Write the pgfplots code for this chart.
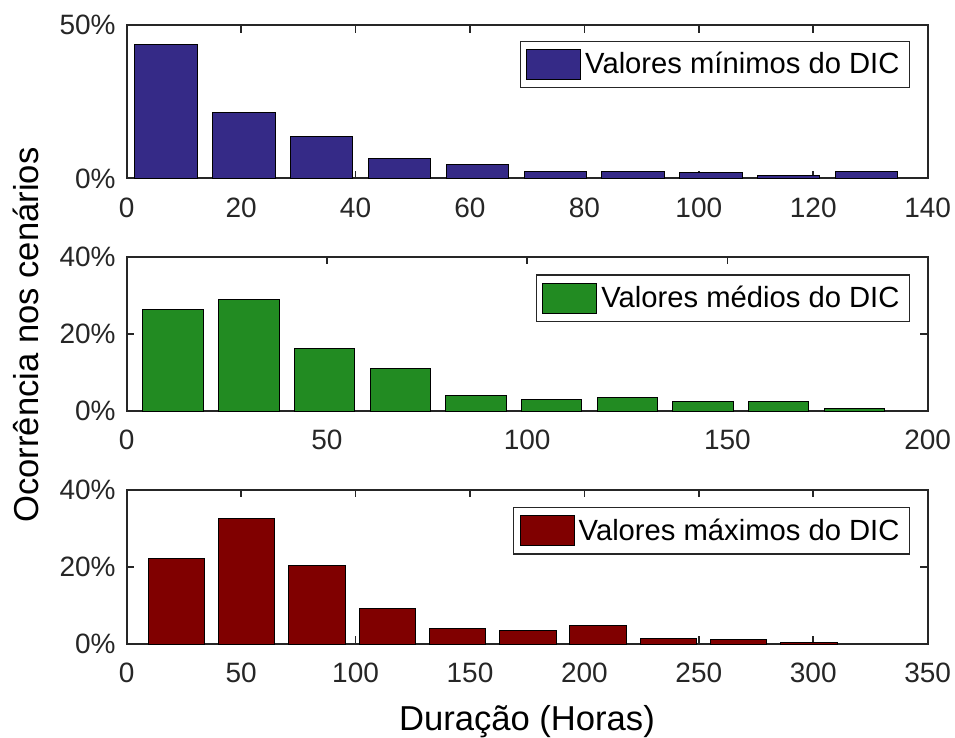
\documentclass[border=0pt]{standalone}
\usepackage{fontspec}
\setmainfont{Liberation Sans}
\usepackage{pgfplots}
\pgfplotsset{compat=1.18}

\definecolor{axgray}{RGB}{38,38,38}
\definecolor{minblue}{RGB}{53,42,135}
\definecolor{medgreen}{RGB}{34,139,34}
\definecolor{maxred}{RGB}{128,0,0}

\pgfplotsset{
  dicpanel/.style={
    scale only axis, width=400.5pt,
    anchor=north west,
    ymin=0,
    ybar,
    axis line style={line width=0.9pt, axgray},
    every tick/.style={line width=0.9pt, axgray},
    major tick length=3.8pt,
    tick align=inside,
    tick label style={font=\fontsize{14}{16}\selectfont, color=axgray},
    /pgf/number format/assume math mode=true,
    xticklabel style={yshift=-6pt},
    yticklabel style={xshift=-2pt},
    legend style={anchor=north east, draw=axgray, line width=0.6pt,
      font=\fontsize{14.6}{17}\selectfont, inner xsep=3pt, inner ysep=3.5pt,
      cells={anchor=west}},
  },
  dicbar/.style={draw=black, line width=0.5pt, fill=#1,
    legend image code/.code={\draw[draw=black, line width=0.5pt, fill=#1] (0pt,-7.5pt) rectangle (27pt,7.5pt);}},
}

\begin{document}
\begin{tikzpicture}
\path[use as bounding box] (0,0) rectangle (477.5pt,-369pt);

% Minimum DIC values
\begin{axis}[dicpanel, at={(63.35pt,-12.5pt)}, height=76.7pt,
  xmin=0, xmax=140, xtick={0,20,...,140},
  ymax=50, ytick={0,50}, yticklabels={0\%,50\%},
  bar width=10.9,
  legend style={at={(0.978,0.898)}}]
\addplot[dicbar=minblue] coordinates {
  (6.9,43.6) (20.5,21.4) (34.1,13.8) (47.7,6.6) (61.3,4.6)
  (74.9,2.2) (88.5,2.4) (102.1,1.8) (115.7,1.1) (129.3,2.1)};
\addlegendentry{Valores mínimos do DIC}
\end{axis}

% Mean DIC values
\begin{axis}[dicpanel, at={(63.35pt,-128.35pt)}, height=77.2pt,
  xmin=0, xmax=200, xtick={0,50,...,200},
  ymax=40, ytick={0,20,40}, yticklabels={0\%,20\%,40\%},
  bar width=15.1,
  legend style={at={(0.978,0.886)}}]
\addplot[dicbar=medgreen] coordinates {
  (11.6,26.2) (30.5,28.8) (49.4,16.2) (68.3,11.0) (87.2,4.0)
  (106.1,3.0) (125.0,3.6) (143.9,2.5) (162.8,2.5) (181.7,0.8)};
\addlegendentry{Valores médios do DIC}
\end{axis}

% Maximum DIC values
\begin{axis}[dicpanel, at={(63.35pt,-244.85pt)}, height=77.2pt,
  xmin=0, xmax=350, xtick={0,50,...,350},
  ymax=40, ytick={0,20,40}, yticklabels={0\%,20\%,40\%},
  bar width=24.6,
  legend style={at={(0.978,0.888)}}]
\addplot[dicbar=maxred] coordinates {
  (21.8,22.3) (52.5,32.5) (83.2,20.4) (113.9,9.1) (144.6,4.1)
  (175.3,3.5) (206.0,4.7) (236.7,1.5) (267.4,1.1) (298.1,0.5)};
\addlegendentry{Valores máximos do DIC}
\end{axis}

\node[rotate=90, anchor=base, font=\fontsize{17.3}{20}\selectfont] at (19.2pt,-167.5pt) {Ocorrência nos cenários};
\node[anchor=base, font=\fontsize{17.3}{20}\selectfont] at (263.5pt,-365pt) {Duração (Horas)};
\end{tikzpicture}
\end{document}
